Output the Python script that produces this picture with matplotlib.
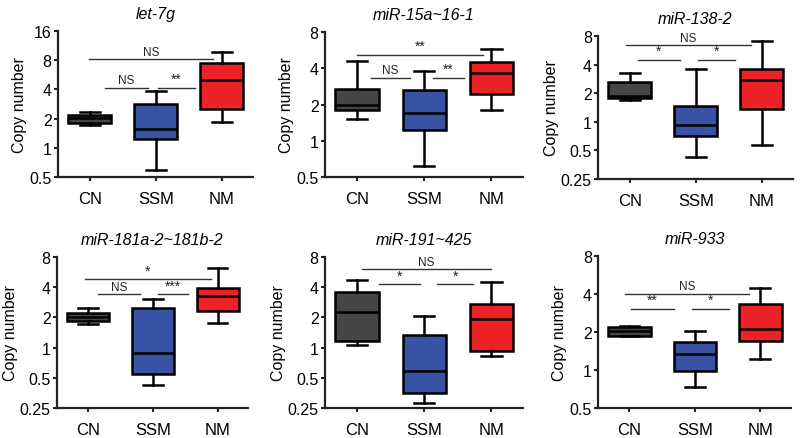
import numpy as np
import matplotlib
matplotlib.use("Agg")
import matplotlib.pyplot as plt

plt.rcParams['font.family'] = ['Liberation Sans', 'DejaVu Sans']

groups = ["CN", "SSM", "NM"]
colors = ["#454545", "#3953a4", "#ec2228"]

titles = ["let-7g", "miR-15a~16-1", "miR-138-2",
          "miR-181a-2~181b-2", "miR-191~425", "miR-933"]

# per panel, per group: (whislo, q1, median, q3, whishi)
let7g = [(1.70, 1.82, 2.03, 2.20, 2.34),
         (0.595, 1.22, 1.57, 2.85, 3.85),
         (1.84, 2.49, 4.96, 7.55, 9.72)]
mir15a = [(1.53, 1.79, 1.99, 2.67, 4.57),
          (0.617, 1.24, 1.71, 2.62, 3.80),
          (1.81, 2.43, 3.68, 4.51, 5.82)]
mir138 = [(1.70, 1.79, 1.86, 2.62, 3.28),
          (0.43, 0.705, 0.93, 1.46, 3.62),
          (0.575, 1.37, 2.77, 3.56, 7.09)]
mir181 = [(1.73, 1.86, 2.03, 2.22, 2.49),
          (0.42, 0.547, 0.886, 2.46, 3.02),
          (1.77, 2.31, 3.26, 3.95, 6.26)]
mir191 = [(1.05, 1.16, 2.26, 3.61, 4.68),
          (0.28, 0.353, 0.58, 1.33, 2.06),
          (0.82, 0.92, 1.91, 2.73, 4.50)]
mir933 = [(1.85, 1.86, 2.03, 2.21, 2.25),
          (0.734, 0.977, 1.33, 1.67, 2.03),
          (1.23, 1.69, 2.12, 3.31, 4.43)]
panel_data = [let7g, mir15a, mir138, mir181, mir191, mir933]

# significance brackets: (x1, x2, y, label)
brackets = [
    [(-0.01, 1.86, 8.17, "NS"), (0.23, 0.88, 4.17, "NS"), (1.03, 1.60, 4.17, "**")],
    [(0.00, 1.88, 5.19, "**"), (0.20, 0.79, 3.32, "NS"), (1.13, 1.59, 3.32, "**")],
    [(-0.06, 1.84, 6.38, "NS"), (0.12, 0.76, 4.50, "*"), (1.04, 1.60, 4.50, "*")],
    [(-0.05, 1.90, 4.79, "*"), (0.16, 0.80, 3.39, "NS"), (1.08, 1.55, 3.39, "***")],
    [(0.07, 1.99, 6.02, "NS"), (0.32, 0.94, 4.27, "*"), (1.19, 1.73, 4.27, "*")],
    [(-0.06, 1.83, 4.02, "NS"), (0.03, 0.68, 3.07, "**"), (0.96, 1.52, 3.07, "*")],
]

yticks = [[0.5, 1, 2, 4, 8, 16], [0.5, 1, 2, 4, 8], [0.25, 0.5, 1, 2, 4, 8],
          [0.25, 0.5, 1, 2, 4, 8], [0.25, 0.5, 1, 2, 4, 8], [0.5, 1, 2, 4, 8]]
ytick_labels = [["0.5", "1", "2", "4", "8", "16"], ["0.5", "1", "2", "4", "8"],
                ["0.25", "0.5", "1", "2", "4", "8"], ["0.25", "0.5", "1", "2", "4", "8"],
                ["0.25", "0.5", "1", "2", "4", "8"], ["0.5", "1", "2", "4", "8"]]

# axes rectangles in pixels: left, right, top, bottom
W, H = 800, 439
rects = [(58, 253, 32, 178), (325, 523, 33, 178), (598, 793, 37, 180),
         (57, 248, 258, 409), (325, 523, 258, 409), (598, 791, 257, 409)]

fig = plt.figure(figsize=(8, 4.39), dpi=100)
axc = "#222222"

for i in range(6):
    l, r, t, b = rects[i]
    ax = fig.add_axes([l / W, (H - b) / H, (r - l) / W, (b - t) / H])
    stats = []
    for g, s in zip(groups, panel_data[i]):
        stats.append(dict(label=g, whislo=s[0], q1=s[1], med=s[2], q3=s[3], whishi=s[4], fliers=[]))
    bp = ax.bxp(stats, positions=range(3), widths=0.65, patch_artist=True,
                showfliers=False,
                boxprops=dict(linewidth=1.8, edgecolor="black"),
                medianprops=dict(color="black", linewidth=1.8),
                whiskerprops=dict(color="black", linewidth=1.8),
                capprops=dict(color="black", linewidth=1.8),
                capwidths=0.3)
    for patch, c in zip(bp['boxes'], colors):
        patch.set_facecolor(c)

    ax.set_yscale('log', base=2)
    ax.set_ylim(yticks[i][0], yticks[i][-1])
    ax.set_yticks(yticks[i])
    ax.set_yticklabels(ytick_labels[i])
    ax.yaxis.set_minor_locator(matplotlib.ticker.NullLocator())
    ax.set_xlim(-0.48, 2.47)
    ax.set_xticks(range(3))
    ax.set_xticklabels(groups)
    ax.tick_params(labelsize=12, width=1.5, length=3, color=axc)
    ax.tick_params(axis="y", labelsize=11.5, pad=1.5)
    ax.tick_params(axis="x", pad=7)
    for sp in ["top", "right"]:
        ax.spines[sp].set_visible(False)
    for sp in ["left", "bottom"]:
        ax.spines[sp].set_linewidth(1.6)
        ax.spines[sp].set_color(axc)
    ax.set_ylabel("Copy number", fontsize=11.5, labelpad=1.5)
    ax.set_title(titles[i], fontsize=11.5, style="italic", pad=9)

    for x1, x2, y, lab in brackets[i]:
        ax.plot([x1, x2], [y, y], color="#333333", lw=1.0, clip_on=False)
        ax.text((x1 + x2) / 2, y * 1.04, lab, ha="center", va="bottom",
                fontsize=8.5 if lab == "NS" else 10, color="#222222")

fig.savefig("out.png", dpi=100)
